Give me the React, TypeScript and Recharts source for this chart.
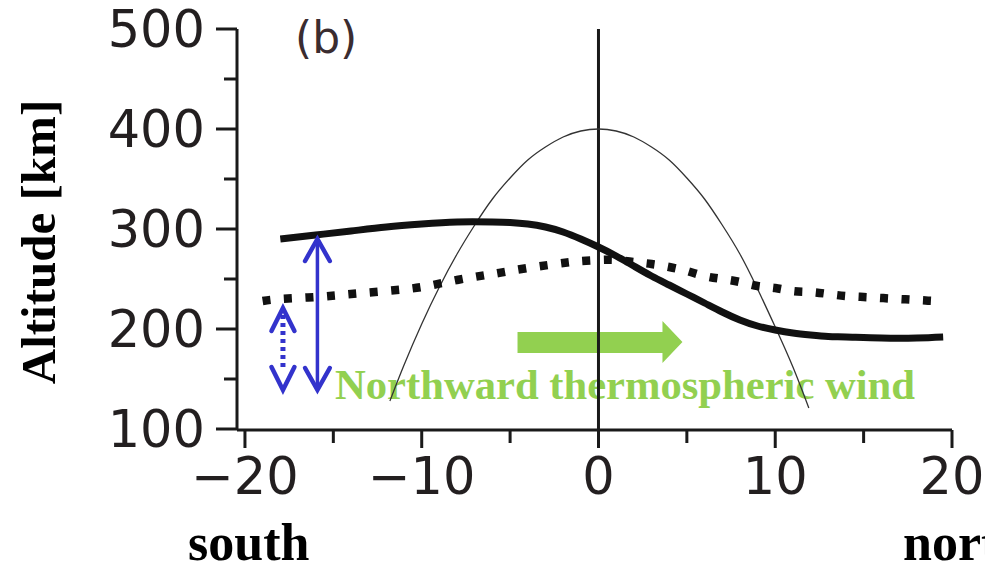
import React from 'react';
import { ComposedChart, Line, Area, XAxis, YAxis, ReferenceLine } from 'recharts';

// ---- data ----
const xTicks = [-20, -15, -10, -5, 0, 5, 10, 15, 20];
const yTicks = [100, 150, 200, 250, 300, 350, 400, 450, 500];

// thick solid curve
const solidLat = [-18, -16, -14, -12, -10, -8, -6, -5, -4, -3, -2, -1, 0, 1, 2, 3, 4, 5, 6, 7, 8, 9, 10, 11, 12, 13, 14, 16, 18, 19.5];
const solidAlt = [290, 294, 298, 302, 305, 307, 307, 306.5, 305, 302, 297, 290, 282, 273, 263, 253, 244, 235, 226, 217, 209, 203, 199, 196, 194, 192.5, 192, 191, 191, 192];

// thick dotted curve
const dottedLat = [-19, -18, -16, -14, -12, -10, -8, -6, -4, -2, -1, 0, 1, 2, 3, 4, 5, 6, 7, 8, 9, 10, 11, 12, 13, 14, 15, 16, 17, 18, 19];
const dottedAlt = [228, 230, 232, 235, 238, 242, 249, 255, 261, 266, 268, 269, 269, 267, 265, 262, 258, 253, 250, 247, 243, 241, 238, 237, 235, 233, 232, 231, 230, 229, 228];

// thin parabola-like curve
const paraLat = [-11.8, -11, -10, -9, -8, -7, -6, -5, -4, -3, -2, -1, 0, 1, 2, 3, 4, 5, 6, 7, 8, 9, 10, 11, 11.9];
const paraAlt = [128, 164, 205, 242, 275, 304, 330, 351, 369, 382, 392, 398, 400, 398, 392, 382, 369, 351, 330, 304, 275, 240, 202, 162, 121];

// blue solid double arrow
const solidArrowShaftLat = [-15.9, -15.9];
const solidArrowShaftAlt = [288, 141];
const solidArrowTopLat = [-16.6, -15.9, -15.2];
const solidArrowTopAlt = [268, 290, 268];
const solidArrowBotLat = [-16.6, -15.9, -15.2];
const solidArrowBotAlt = [161, 139, 161];

// blue dotted double arrow
const dotArrowShaftLat = [-17.85, -17.85];
const dotArrowShaftAlt = [214, 160];
const dotArrowTopLat = [-18.5, -17.85, -17.2];
const dotArrowTopAlt = [198, 221, 198];
const dotArrowBotLat = [-18.5, -17.85, -17.2];
const dotArrowBotAlt = [162, 139, 162];

// green block arrow (range area: [low, high])
const greenLat = [-4.58, 3.62, 3.62, 4.75];
const greenLow = [176, 176, 166, 187];
const greenHigh = [197, 197, 208, 187];

const pts = (xs: number[], ys: number[]) => xs.map((x, i) => ({ x, y: ys[i] }));
const solidData = pts(solidLat, solidAlt);
const dottedData = pts(dottedLat, dottedAlt);
const paraData = pts(paraLat, paraAlt);
const greenData = greenLat.map((x, i) => ({ x, r: [greenLow[i], greenHigh[i]] }));

const BLUE = '#3333CC';
const GREEN = '#92D050';
const INK = '#231f20';
const AXIS = '#1a1a1a';
const TICK_FONT = 'DejaVu Sans, Verdana, sans-serif';
const SERIF = 'Liberation Serif, Times New Roman, serif';

const YTick = (props: any) => {
  const { x, y, payload } = props;
  const v = payload.value as number;
  const major = v % 100 === 0;
  return (
    <g>
      <line x1={x - (major ? 21 : 13)} x2={x} y1={y} y2={y} stroke={AXIS} strokeWidth={3} />
      {major && (
        <text x={x - 32} y={y} dy={18} textAnchor="end" fontSize={51} fontFamily={TICK_FONT} fill={INK}>
          {v}
        </text>
      )}
    </g>
  );
};

const XTick = (props: any) => {
  const { x, y, payload } = props;
  const v = payload.value as number;
  const major = v % 10 === 0;
  const label = v < 0 ? `\u2212${Math.abs(v)}` : `${v}`;
  return (
    <g>
      <line x1={x} x2={x} y1={y} y2={y + (major ? 18 : 13)} stroke={AXIS} strokeWidth={3} />
      {major && (
        <text x={x} y={y + 64} textAnchor="middle" fontSize={51} fontFamily={TICK_FONT} fill={INK}>
          {label}
        </text>
      )}
    </g>
  );
};

const lineCommon = { isAnimationActive: false, dot: false, activeDot: false, legendType: 'none' as const };

export default function App() {
  return (
    <div style={{ position: 'absolute', left: 0, top: 0, width: 985, height: 566, background: '#fff' }}>
      <ComposedChart width={985} height={566} margin={{ top: 29, right: 33, bottom: 76, left: 177 }}>
        <XAxis
          type="number"
          dataKey="x"
          domain={[-20.45, 20]}
          ticks={xTicks}
          interval={0}
          allowDataOverflow
          height={60}
          tickSize={0}
          tickMargin={0}
          tickLine={false}
          axisLine={{ stroke: AXIS, strokeWidth: 3 }}
          tick={(p: any) => <XTick {...p} />}
        />
        <YAxis
          type="number"
          domain={[99, 500]}
          ticks={yTicks}
          interval={0}
          allowDataOverflow
          width={60}
          tickSize={0}
          tickMargin={0}
          tickLine={false}
          axisLine={{ stroke: AXIS, strokeWidth: 3 }}
          tick={(p: any) => <YTick {...p} />}
        />
        <ReferenceLine x={0} stroke={AXIS} strokeWidth={3} />

        <Area
          data={greenData}
          dataKey="r"
          type="linear"
          fill={GREEN}
          fillOpacity={1}
          stroke="none"
          isAnimationActive={false}
          dot={false}
          activeDot={false}
        />

        <Line data={paraData} dataKey="y" type="natural" stroke="#333" strokeWidth={1.3} {...lineCommon} />
        <Line data={dottedData} dataKey="y" type="natural" stroke="#111" strokeWidth={8.5} strokeDasharray="8 13.5" {...lineCommon} />
        <Line data={solidData} dataKey="y" type="natural" stroke="#111" strokeWidth={7} {...lineCommon} />

        <Line data={pts(solidArrowShaftLat, solidArrowShaftAlt)} dataKey="y" type="linear" stroke={BLUE} strokeWidth={3.5} {...lineCommon} />
        <Line data={pts(solidArrowTopLat, solidArrowTopAlt)} dataKey="y" type="linear" stroke={BLUE} strokeWidth={4.5} strokeLinecap="round" {...lineCommon} />
        <Line data={pts(solidArrowBotLat, solidArrowBotAlt)} dataKey="y" type="linear" stroke={BLUE} strokeWidth={4.5} strokeLinecap="round" {...lineCommon} />

        <Line data={pts(dotArrowShaftLat, dotArrowShaftAlt)} dataKey="y" type="linear" stroke={BLUE} strokeWidth={5} strokeDasharray="4 4" {...lineCommon} />
        <Line data={pts(dotArrowTopLat, dotArrowTopAlt)} dataKey="y" type="linear" stroke={BLUE} strokeWidth={4.5} strokeLinecap="round" {...lineCommon} />
        <Line data={pts(dotArrowBotLat, dotArrowBotAlt)} dataKey="y" type="linear" stroke={BLUE} strokeWidth={4.5} strokeLinecap="round" {...lineCommon} />

        <text x={295} y={53} fontSize={44} fontFamily={TICK_FONT} fill="#3a2c30">(b)</text>
        <text
          x={55}
          y={242}
          transform="rotate(-90 55 242)"
          textAnchor="middle"
          fontSize={49}
          fontWeight="bold"
          fontFamily={SERIF}
          fill="#000"
        >
          Altitude [km]
        </text>
        <text x={335} y={399} fontSize={42} fontWeight="bold" fontFamily={SERIF} fill={GREEN} textLength={580} lengthAdjust="spacingAndGlyphs">
          Northward thermospheric wind
        </text>
        <text x={188} y={560} fontSize={52} fontWeight="bold" fontFamily={SERIF} fill="#000">south</text>
        <text x={903} y={560} fontSize={52} fontWeight="bold" fontFamily={SERIF} fill="#000">north</text>
      </ComposedChart>
    </div>
  );
}
